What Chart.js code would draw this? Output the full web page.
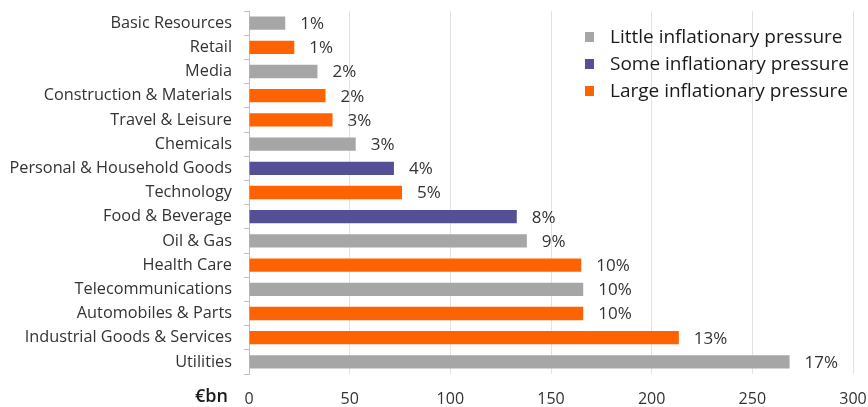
<!DOCTYPE html>
<html>
<head>
<meta charset="utf-8">
<script src="https://cdn.jsdelivr.net/npm/chart.js@4/dist/chart.umd.min.js"></script>
<style>
  html, body { margin: 0; padding: 0; background: #ffffff; }
  #wrap { width: 868px; height: 407px; position: relative; }
</style>
</head>
<body>
<div id="wrap"><canvas id="sectorChart"></canvas></div>
<script>
// Sector sizes (EUR bn), share of total, and how much inflation pressure each faces
const sectors = [
    'Basic Resources', 'Retail', 'Media', 'Construction & Materials', 'Travel & Leisure',
    'Chemicals', 'Personal & Household Goods', 'Technology', 'Food & Beverage', 'Oil & Gas',
    'Health Care', 'Telecommunications', 'Automobiles & Parts', 'Industrial Goods & Services', 'Utilities'
];
const amounts = [18, 22.5, 34, 38, 41.5, 53, 72, 76, 133, 138, 165, 166, 166, 213.5, 268.5];
const shares = ['1%', '1%', '2%', '2%', '3%', '3%', '4%', '5%', '8%', '9%', '10%', '10%', '10%', '13%', '17%'];
const pressure = ['little', 'large', 'little', 'large', 'large', 'little', 'some', 'large', 'some', 'little',
    'large', 'little', 'large', 'large', 'little'];

const groupKeys = ['little', 'some', 'large'];
const groupNames = ['Little inflationary pressure', 'Some inflationary pressure', 'Large inflationary pressure'];
const groupColors = ['#a6a6a6', '#555096', '#ff6200'];

const xTicks = [0, 50, 100, 150, 200, 250, 300];

const textColor = '#333333';
const labelFont = '"Open Sans", sans-serif';

// one dataset per pressure group, null where the sector belongs elsewhere
const datasets = groupKeys.map((key, g) => ({
    label: groupNames[g],
    data: amounts.map((v, i) => (pressure[i] === key ? v : null)),
    backgroundColor: groupColors[g],
    borderWidth: 0,
    barPercentage: 0.55,
    categoryPercentage: 1
}));

// percentage text just past the end of each bar
const shareLabels = {
    id: 'shareLabels',
    afterDatasetsDraw(chart) {
        const ctx = chart.ctx;
        ctx.save();
        ctx.font = '17px ' + labelFont;
        ctx.fillStyle = textColor;
        ctx.textAlign = 'left';
        ctx.textBaseline = 'middle';
        chart.data.datasets.forEach((ds, d) => {
            chart.getDatasetMeta(d).data.forEach((bar, i) => {
                if (ds.data[i] == null) return;
                ctx.fillText(shares[i], bar.x + 15, bar.y + 1);
            });
        });
        ctx.restore();
    }
};

// legend sits inside the plot, top right
const insideLegend = {
    id: 'insideLegend',
    afterDraw(chart) {
        const ctx = chart.ctx;
        const area = chart.chartArea;
        const left = area.right - 268;
        const top = area.top + 26;
        ctx.save();
        ctx.font = '19px ' + labelFont;
        ctx.textBaseline = 'middle';
        chart.data.datasets.forEach((ds, d) => {
            const y = top + d * 27;
            ctx.fillStyle = ds.backgroundColor;
            ctx.fillRect(left, y - 5, 9, 10);
            ctx.fillStyle = '#1a1a1a';
            ctx.fillText(ds.label, left + 25, y + 1);
        });
        ctx.restore();
    }
};

// unit caption to the left of the x tick labels
const unitCaption = {
    id: 'unitCaption',
    afterDraw(chart) {
        const ctx = chart.ctx;
        const xs = chart.scales.x;
        ctx.save();
        ctx.font = '600 18px ' + labelFont;
        ctx.fillStyle = '#1a1a1a';
        ctx.textAlign = 'right';
        ctx.textBaseline = 'middle';
        ctx.fillText('€bn', xs.left - 21, xs.bottom - 10);
        ctx.restore();
    }
};

new Chart(document.getElementById('sectorChart'), {
    type: 'bar',
    data: { labels: sectors, datasets: datasets },
    options: {
        indexAxis: 'y',
        responsive: true,
        maintainAspectRatio: false,
        animation: false,
        grouped: false,
        layout: { padding: { top: 11, right: 15, bottom: 0, left: 0 } },
        plugins: {
            legend: { display: false },
            tooltip: { enabled: false }
        },
        scales: {
            x: {
                min: 0,
                max: 300,
                afterBuildTicks(scale) {
                    scale.ticks = xTicks.map(v => ({ value: v }));
                },
                afterFit(scale) {
                    scale.height = 33;
                    scale.paddingLeft = 0;
                    scale.paddingRight = 0;
                },
                grid: { color: '#e3e3e3', drawTicks: false },
                border: { display: false },
                ticks: {
                    padding: 16,
                    color: textColor,
                    font: { family: labelFont, size: 16 }
                }
            },
            y: {
                afterFit(scale) {
                    scale.width = 249;
                    scale.paddingTop = 0;
                    scale.paddingBottom = 0;
                },
                grid: {
                    offset: true,
                    drawOnChartArea: false,
                    drawTicks: true,
                    tickLength: 5,
                    color: '#bfbfbf'
                },
                border: { display: true, color: '#bfbfbf' },
                ticks: {
                    padding: 12,
                    color: textColor,
                    font: { family: labelFont, size: 16.3 }
                }
            }
        }
    },
    plugins: [shareLabels, insideLegend, unitCaption]
});
</script>
</body>
</html>
